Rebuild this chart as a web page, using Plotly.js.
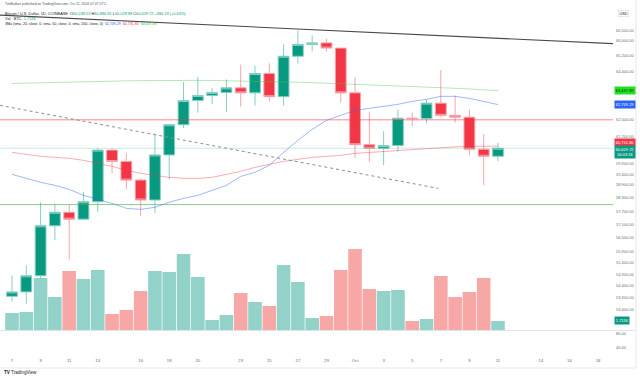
<!DOCTYPE html>
<html><head><meta charset="utf-8">
<script src="https://cdn.plot.ly/plotly-3.0.1.min.js"></script>
<style>html,body{margin:0;padding:0;background:#fff;}#chart{width:640px;height:377px;}</style>
</head><body><div id="chart"></div>
<script>
// ---- data (BTC/USD daily, Coinbase) ----
const dates = ['2024-09-07','2024-09-08','2024-09-09','2024-09-10','2024-09-11','2024-09-12','2024-09-13','2024-09-14','2024-09-15','2024-09-16','2024-09-17','2024-09-18','2024-09-19','2024-09-20','2024-09-21','2024-09-22','2024-09-23','2024-09-24','2024-09-25','2024-09-26','2024-09-27','2024-09-28','2024-09-29','2024-09-30','2024-10-01','2024-10-02','2024-10-03','2024-10-04','2024-10-05','2024-10-06','2024-10-07','2024-10-08','2024-10-09','2024-10-10','2024-10-11'];
const open  = [53960,54150,54840,57040,57650,57340,58130,60540,60000,59130,58210,60310,61760,62950,63200,63350,63580,63330,64300,63140,65180,65790,65870,65600,63330,60800,60630,60760,62080,62060,62820,62220,62130,60580,60249.53];
const high  = [54850,55300,58100,58040,57990,58580,60650,60620,60380,59210,61330,61790,63870,64130,63560,64000,64750,64700,64820,65800,66500,66260,66080,65620,64120,62400,61450,62500,62360,62990,64480,63200,62500,61300,60880.91];
const low   = [53750,53650,54600,56400,55550,57330,57650,59450,58700,57490,57610,59170,61600,62350,62770,62370,62650,62700,62900,62700,64810,65430,65430,62850,60170,59980,59830,60480,61700,61830,62130,61860,60300,58900,60029.98];
const close = [54150,54840,57040,57650,57340,58130,60540,60000,59130,58210,60310,61760,62950,63200,63350,63580,63330,64300,63140,65180,65790,65870,65600,63330,60800,60630,60760,62080,62060,62820,62220,62130,60580,60249.53,60629.72];
const volumeK = [3.23,3.42,9.88,6.27,11.21,9.69,11.40,3.04,3.80,7.41,11.21,11.02,14.44,10.07,1.90,2.85,7.03,5.32,4.56,12.35,9.12,2.28,2.66,11.40,15.39,7.79,7.41,7.60,1.71,2.09,10.26,6.27,7.22,9.88,1.7114];
const sma20  = [59397,59210,59024,58885,58700,58424,58240,58058,57829,57784,57874,58104,58286,58424,58654,58885,59303,59491,59818,60434,61007,61537,61975,62219,62464,62563,62661,62760,62908,63007,63156,63156,63057,62908,62749.29];
const sma50  = [60434,60339,60244,60197,60149,60055,59913,59772,59584,59444,59350,59257,59210,59210,59257,59397,59537,59725,59866,60007,60102,60197,60244,60292,60387,60434,60482,60530,60577,60624,60672,60696,60720,60720,60731.80];
const sma200 = [63800,63820,63840,63860,63880,63895,63910,63920,63930,63940,63950,63955,63958,63956,63950,63940,63925,63910,63895,63880,63860,63840,63815,63790,63765,63740,63710,63680,63650,63620,63590,63560,63525,63480,63437.89];
// drawings
const levelRed = 62000;
const levelGreen = 58000;
const trendDates = ['2024-09-06 03:51','2024-10-19 01:06'];
const trendPrices = [67325, 65830];
const dotDates = ['2024-09-06 03:51','2024-10-06 19:12'];
const dotPrices = [62711, 58747];
// ticks (values hidden under the axis labels are left out)
const priceTicks = [66500,66000,65200,64400,62000,61200,59900,59400,58900,58300,57700,57100,56500,55900,55400,54900,54400,53900,53400];
const xTickDates = ['2024-09-07','2024-09-09','2024-09-11','2024-09-13','2024-09-16','2024-09-18','2024-09-20','2024-09-23','2024-09-25','2024-09-27','2024-09-29','2024-10-01','2024-10-03','2024-10-05','2024-10-07','2024-10-09','2024-10-11','2024-10-14','2024-10-16','2024-10-18'];
const xTickText = ['7','9','11','13','16','18','20','23','25','27','29','Oct','3','5','7','9','11','14','16','18'];
const lowerTicks = [80, 40];

// ---- styling ----
const UP='#089981', DN='#f23645';
const FONT='Liberation Sans, Arial, sans-serif';
const TXT='#131722', GREY='#6a6d78';
const xRange = ['2024-09-06 03:51','2024-10-19 01:06'];
const f2 = v => v.toLocaleString('en-US',{minimumFractionDigits:2,maximumFractionDigits:2});
const n = close.length, L = n-1;

const volColors = close.map((c,i)=> c>=open[i] ? '#92d2c9' : '#f7a8a6');

const traces = [
  {type:'bar', x:dates, y:volumeK, xaxis:'x', yaxis:'y', marker:{color:volColors, line:{width:0}}, hoverinfo:'skip'},
  {type:'scatter', mode:'lines', x:dates, y:sma200, xaxis:'x', yaxis:'y2', line:{color:'rgba(76,200,80,0.42)', width:1}, hoverinfo:'skip'},
  {type:'scatter', mode:'lines', x:dates, y:sma50, xaxis:'x', yaxis:'y2', line:{color:'rgba(242,54,69,0.42)', width:1}, hoverinfo:'skip'},
  {type:'scatter', mode:'lines', x:dates, y:sma20, xaxis:'x', yaxis:'y2', line:{color:'rgba(41,98,255,0.45)', width:1}, hoverinfo:'skip'},
  {type:'scatter', mode:'lines', x:xRange, y:[close[L],close[L]], xaxis:'x', yaxis:'y2', line:{color:'rgba(8,153,129,0.22)', width:1}, hoverinfo:'skip'},
  {type:'scatter', mode:'lines', x:xRange, y:[levelRed,levelRed], xaxis:'x', yaxis:'y2', line:{color:'rgba(242,54,69,0.6)', width:1}, hoverinfo:'skip'},
  {type:'scatter', mode:'lines', x:xRange, y:[levelGreen,levelGreen], xaxis:'x', yaxis:'y2', line:{color:'rgba(76,175,80,0.65)', width:1}, hoverinfo:'skip'},
  {type:'scatter', mode:'lines', x:dotDates, y:dotPrices, xaxis:'x', yaxis:'y2', line:{color:'#8a8d96', width:1, dash:'dot'}, hoverinfo:'skip'},
  {type:'scatter', mode:'lines', x:trendDates, y:trendPrices, xaxis:'x', yaxis:'y2', line:{color:'#4a4a4a', width:1.1}, hoverinfo:'skip'},
  {type:'candlestick', x:dates, open:open, high:high, low:low, close:close, xaxis:'x', yaxis:'y2',
    increasing:{line:{color:'#86cfc2', width:1}, fillcolor:UP},
    decreasing:{line:{color:'#f7a3a9', width:1}, fillcolor:DN},
    whiskerwidth:0, hoverinfo:'skip'},
  {type:'scatter', mode:'lines', x:[], y:[], xaxis:'x', yaxis:'y3', hoverinfo:'skip'}
];

const H = 357; // plot area height in px
const py = p => 1 - p/H;
const chg = close[L]-close[L-1];
const pct = chg/close[L-1]*100;
const col = (c,t) => '<span style="color:'+c+'">'+t+'</span>';
const cUp = chg>=0 ? UP : DN;

const annotations = [
  {xref:'paper', yref:'paper', x:0.005, y:py(4), xanchor:'left', yanchor:'middle', showarrow:false,
   text:'TimBakker published on TradingView.com, Oct 11, 2024 07:07 UTC', font:{family:FONT, size:3.4, color:'#50535e'}},
  {xref:'paper', yref:'paper', x:0.005, y:py(13.3), xanchor:'left', yanchor:'middle', showarrow:false,
   text:'Bitcoin / U.S. Dollar, 1D, COINBASE&nbsp;&nbsp;O'+col(cUp,f2(open[L]))+'&nbsp;H'+col(cUp,f2(high[L]))+'&nbsp;L'+col(cUp,f2(low[L]))+'&nbsp;C'+col(cUp,f2(close[L]))+'&nbsp;'+col(cUp,(chg>=0?'+':'')+f2(chg)+' ('+(chg>=0?'+':'')+pct.toFixed(2)+'%)'),
   font:{family:FONT, size:3.9, color:TXT}},
  {xref:'paper', yref:'paper', x:0.005, y:py(18.5), xanchor:'left', yanchor:'middle', showarrow:false,
   text:'Vol · BTC&nbsp;&nbsp;'+col(UP, volumeK[L].toFixed(3)+'K'), font:{family:FONT, size:3.9, color:TXT}},
  {xref:'paper', yref:'paper', x:0.005, y:py(24), xanchor:'left', yanchor:'middle', showarrow:false,
   text:'3Ma (sma, 20, close, 0, sma, 50, close, 0, sma, 200, close, 0)&nbsp;&nbsp;'+col('#2962ff',f2(sma20[L]))+'&nbsp;&nbsp;'+col(DN,f2(sma50[L]))+'&nbsp;&nbsp;'+col('#2bbd2b',f2(sma200[L])),
   font:{family:FONT, size:3.6, color:TXT}},
  // axis value labels
  {xref:'paper', yref:'y2', x:1, xshift:1, y:Math.log10(sma200[L]), xanchor:'left', yanchor:'middle', showarrow:false,
   text:f2(sma200[L]), bgcolor:'#22e022', borderpad:0.8, font:{family:FONT, size:4, color:'#10240f'}},
  {xref:'paper', yref:'y2', x:1, xshift:1, y:Math.log10(sma20[L]), xanchor:'left', yanchor:'middle', showarrow:false,
   text:f2(sma20[L]), bgcolor:'#2962ff', borderpad:0.8, font:{family:FONT, size:4, color:'#ffffff'}},
  {xref:'paper', yref:'y2', x:1, xshift:1, y:Math.log10(sma50[L]), yshift:3.8, xanchor:'left', yanchor:'middle', showarrow:false,
   text:f2(sma50[L]), bgcolor:DN, borderpad:0.8, font:{family:FONT, size:4, color:'#ffffff'}},
  {xref:'paper', yref:'y2', x:1, xshift:1, y:Math.log10(close[L]), yshift:3.2, xanchor:'left', yanchor:'top', showarrow:false,
   text:f2(close[L])+'<br>16:03:18', bgcolor:UP, borderpad:0.8, font:{family:FONT, size:4, color:'#ffffff'}},
  {xref:'paper', yref:'y', x:1, xshift:1, y:volumeK[L], xanchor:'left', yanchor:'middle', showarrow:false,
   text:volumeK[L].toFixed(3)+'K', bgcolor:UP, borderpad:0.8, font:{family:FONT, size:4, color:'#ffffff'}},
  {xref:'paper', yref:'paper', x:1, xshift:5, y:py(14), xanchor:'left', yanchor:'middle', showarrow:false,
   text:'USD', bordercolor:'#d6d9e0', borderwidth:0.6, borderpad:1, font:{family:FONT, size:3.8, color:TXT}},
  {xref:'paper', yref:'paper', x:0.004, y:py(372), xanchor:'left', yanchor:'middle', showarrow:false,
   text:'<b>TV</b> TradingView', font:{family:FONT, size:4.6, color:TXT}}
];

const shapes = [
  {type:'line', xref:'paper', yref:'paper', x0:0, x1:1.0375, y0:py(330.5), y1:py(330.5), line:{color:'#e0e3eb', width:1}},
  {type:'line', xref:'paper', yref:'paper', x0:0, x1:1.0375, y0:py(368), y1:py(368), line:{color:'#e6e8ee', width:1}},
  {type:'line', xref:'paper', yref:'paper', x0:1.0375, x1:1.0375, y0:py(0), y1:py(368), line:{color:'#e6e8ee', width:1}}
];

const layout = {
  width:640, height:377,
  margin:{l:0, r:27, t:0, b:20, pad:0},
  paper_bgcolor:'#ffffff', plot_bgcolor:'#ffffff',
  showlegend:false,
  font:{family:FONT, size:4, color:GREY},
  bargap:0.05,
  boxgap:0.13, boxgroupgap:0.13,
  xaxis:{type:'date', range:xRange, anchor:'y3', tickvals:xTickDates, ticktext:xTickText,
         tickfont:{family:FONT, size:4.3, color:GREY}, showgrid:false, zeroline:false, showline:false,
         ticks:'', rangeslider:{visible:false}, fixedrange:true},
  yaxis:{domain:[27/H, 1], range:[0, 62.7], visible:false, showgrid:false, zeroline:false, fixedrange:true},
  yaxis2:{overlaying:'y', type:'log', range:[4.720580, 4.833338], side:'right', anchor:'x',
          tickvals:priceTicks, ticktext:priceTicks.map(f2), tickfont:{family:FONT, size:4, color:GREY},
          showgrid:false, zeroline:false, showline:false, ticks:'', ticklabelstandoff:2, fixedrange:true},
  yaxis3:{domain:[0, 26/H], range:[14.3, 88.6], side:'right', anchor:'x',
          tickvals:lowerTicks, ticktext:lowerTicks.map(f2), tickfont:{family:FONT, size:4, color:GREY},
          showgrid:false, zeroline:false, showline:false, ticks:'', ticklabelstandoff:2, fixedrange:true},
  annotations:annotations,
  shapes:shapes
};

Plotly.newPlot('chart', traces, layout, {staticPlot:true, displayModeBar:false});
</script>
</body></html>
